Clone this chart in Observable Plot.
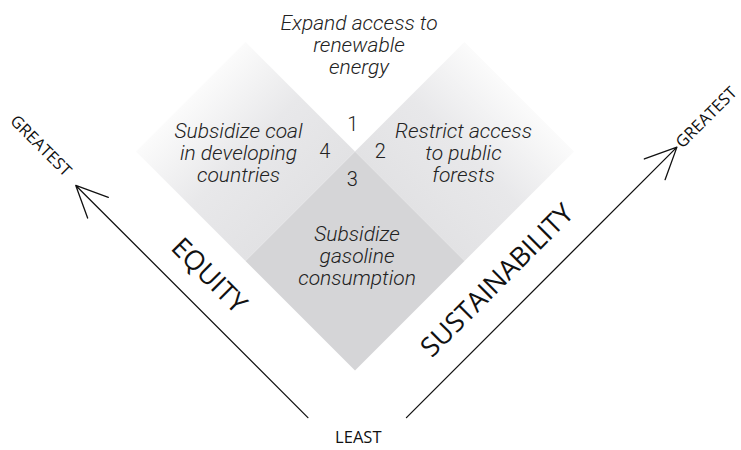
<!DOCTYPE html>
<html><head><meta charset="utf-8">
<script src="https://cdn.jsdelivr.net/npm/d3@7"></script>
<script src="https://cdn.jsdelivr.net/npm/@observablehq/plot@0.6"></script>
<style>body{margin:0;background:#fff;} svg{display:block;}</style>
</head><body><div id="chart"></div>
<script>
// ---- data ----
const quadrantIds = [1, 2, 3, 4];
const quadrantLabels = [
  "Expand access to\nrenewable\nenergy",
  "Restrict access\nto public\nforests",
  "Subsidize\ngasoline\nconsumption",
  "Subsidize coal\nin developing\ncountries"
];
const quadrantEquity = ["high", "low", "low", "high"];
const quadrantSustainability = ["high", "high", "low", "low"];
const axisNames = ["EQUITY", "SUSTAINABILITY"];
const axisEndLabels = ["GREATEST", "LEAST"];

// ---- layout (equity/sustainability grid units) ----
const K = 109.5;
const W = 741, H = 450;
const fills = {1: "none", 2: "url(#gradRight)", 3: "#d5d5d7", 4: "url(#gradLeft)"};
const labelNudge = {1: [4, 3], 2: [-1, 1], 3: [2, -5], 4: [-7, 1]};

const quadrants = quadrantIds.map((id, i) => {
  const e0 = quadrantEquity[i] === "high" ? 1 : 0;
  const s0 = quadrantSustainability[i] === "high" ? 1 : 0;
  return {id, label: quadrantLabels[i], e0, s0};
});
const corners = quadrants.flatMap(q => [
  [q.e0, q.s0], [q.e0 + 1, q.s0], [q.e0 + 1, q.s0 + 1], [q.e0, q.s0 + 1], [q.e0, q.s0]
].map(([e, s]) => ({id: q.id, e, s})));

const X = d => d.s - d.e;
const Y = d => d.s + d.e;

const numbers = quadrants.map(q => ({
  id: q.id,
  e: 1 + (q.e0 ? 0.135 : -0.115),
  s: 1 + (q.s0 ? 0.115 : -0.14)
}));

const arrows = [
  {name: axisNames[0], e1: 0, s1: -0.43, e2: 2.12, s2: -0.43},
  {name: axisNames[1], e1: -0.45, s1: 0.02, e2: -0.45, s2: 2.49}
];
const axisTitles = [
  {text: axisNames[0], e: 1.10, s: -0.235, rotate: 45},
  {text: axisNames[1], e: -0.24, s: 1.06, rotate: -45}
];
const endLabels = [
  {text: axisEndLabels[0], e: 2.46, s: -0.41, rotate: 45},
  {text: axisEndLabels[0], e: -0.45, s: 2.76, rotate: -45},
  {text: axisEndLabels[1], e: -0.32, s: -0.29, rotate: 0}
];

const sansItalic = {fontFamily: "Roboto, 'Liberation Sans', sans-serif", fontStyle: "italic", fontWeight: 300, fontSize: 21, fill: "#222", lineHeight: 1.05};

const marks = [];
for (const q of quadrants) {
  if (fills[q.id] === "none") continue;
  marks.push(Plot.line(corners.filter(c => c.id === q.id), {x: X, y: Y, fill: fills[q.id], stroke: "none"}));
}
marks.push(
  Plot.arrow(arrows, {
    x1: d => d.s1 - d.e1, y1: d => d.s1 + d.e1,
    x2: d => d.s2 - d.e2, y2: d => d.s2 + d.e2,
    stroke: "#111", strokeWidth: 1.3, headLength: 40, headAngle: 50
  }),
  ...quadrants.map(q => Plot.text([q], {
    x: d => d.s0 + 0.5 - (d.e0 + 0.5), y: d => d.s0 + 0.5 + d.e0 + 0.5,
    text: "label", dx: labelNudge[q.id][0], dy: labelNudge[q.id][1], ...sansItalic
  })),
  Plot.text(numbers, {x: X, y: Y, text: "id", fontFamily: "Roboto, 'Liberation Sans', sans-serif", fontWeight: 300, fontSize: 20, fill: "#222"}),
  ...axisTitles.map(t => Plot.text([t], {x: X, y: Y, text: "text", rotate: t.rotate, fontFamily: "'Open Sans', sans-serif", fontSize: 27, fill: "#111"})),
  ...endLabels.map(t => Plot.text([t], {x: X, y: Y, text: "text", rotate: t.rotate, fontFamily: "'Open Sans', sans-serif", fontSize: 16.5, fill: "#111"}))
);

const plot = Plot.plot({
  width: W, height: H,
  margin: 0,
  x: {domain: [-354.5 / K, (W - 354.5) / K], range: [0, W], axis: null},
  y: {domain: [(370 - H) / K, 370 / K], range: [H, 0], axis: null},
  marks
});

const svg = d3.select(plot);
const defs = svg.insert("defs", ":first-child");
const gl = defs.append("linearGradient").attr("id", "gradLeft")
  .attr("x1", 0.75).attr("y1", 0.75).attr("x2", 0.25).attr("y2", 0.25);
gl.append("stop").attr("offset", 0).attr("stop-color", "#e2e2e4");
gl.append("stop").attr("offset", 0.5).attr("stop-color", "#e8e8ea");
gl.append("stop").attr("offset", 1).attr("stop-color", "#fbfbfb");
const gr = defs.append("linearGradient").attr("id", "gradRight")
  .attr("x1", 0.25).attr("y1", 0.75).attr("x2", 0.75).attr("y2", 0.25);
gr.append("stop").attr("offset", 0).attr("stop-color", "#e2e2e4");
gr.append("stop").attr("offset", 0.5).attr("stop-color", "#e8e8ea");
gr.append("stop").attr("offset", 1).attr("stop-color", "#fbfbfb");

document.getElementById("chart").appendChild(plot);
</script>
</body></html>
